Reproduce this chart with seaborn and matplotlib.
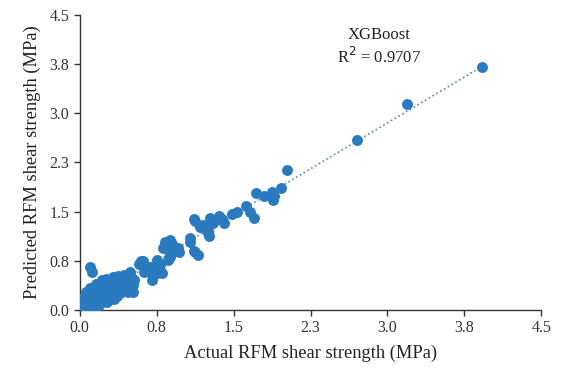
import numpy as np
import pandas as pd
import matplotlib
matplotlib.use("Agg")
import matplotlib.pyplot as plt
import seaborn as sns

# actual vs predicted shear strength (MPa)
actual = [
    0.00, 0.01, 0.02, 0.00, 0.03, 0.05, 0.04, 0.06, 0.02, 0.07, 0.08, 0.01, 0.09, 0.05, 0.10,
    0.11, 0.12, 0.13, 0.14, 0.15, 0.16, 0.17, 0.18, 0.19, 0.20, 0.21, 0.22, 0.23, 0.24, 0.25,
    0.06, 0.10, 0.16, 0.22, 0.26, 0.03, 0.08, 0.14,
    0.27, 0.28, 0.29, 0.30, 0.31, 0.32, 0.33, 0.34, 0.35, 0.36, 0.37, 0.38, 0.39, 0.40,
    0.41, 0.42, 0.43, 0.44, 0.45, 0.46, 0.47, 0.48, 0.49, 0.50, 0.51, 0.52, 0.52, 0.53,
    0.10, 0.12,
    0.58, 0.60, 0.62, 0.63, 0.65, 0.68, 0.70, 0.71, 0.70, 0.75, 0.75, 0.78, 0.80, 0.81,
    0.83, 0.84, 0.86, 0.88, 0.88, 0.88, 0.91, 0.94, 0.96, 0.97, 0.90, 0.85,
    1.07, 1.07, 1.11, 1.12, 1.15, 1.11, 1.12, 1.17, 1.18, 1.25, 1.25, 1.27, 1.30, 1.26,
    1.36, 1.39, 1.41, 1.20,
    1.48, 1.53, 1.62, 1.66, 1.70, 1.72, 1.80, 1.87, 1.88, 1.89, 1.96, 2.02,
    2.70, 3.19, 3.92,
]
predicted = [
    0.00, 0.02, 0.05, 0.08, 0.10, 0.03, 0.15, 0.08, 0.18, 0.12, 0.05, 0.12, 0.15, 0.20, 0.10,
    0.06, 0.18, 0.28, 0.10, 0.22, 0.32, 0.14, 0.26, 0.08, 0.20, 0.35, 0.12, 0.28, 0.40, 0.18,
    0.28, 0.33, 0.40, 0.45, 0.47, 0.00, 0.00, 0.04,
    0.12, 0.30, 0.42, 0.20, 0.36, 0.50, 0.16, 0.28, 0.44, 0.22, 0.52, 0.34, 0.26, 0.46,
    0.38, 0.30, 0.53, 0.42, 0.50, 0.34, 0.27, 0.45, 0.58, 0.40, 0.49, 0.28, 0.38, 0.46,
    0.66, 0.58,
    0.70, 0.74, 0.74, 0.58, 0.60, 0.66, 0.64, 0.53, 0.46, 0.56, 0.76, 0.69, 0.56, 0.94,
    1.04, 1.02, 0.76, 1.07, 0.84, 0.81, 0.91, 0.94, 0.94, 0.89, 1.00, 0.95,
    1.04, 1.10, 0.90, 0.89, 0.84, 1.38, 1.36, 1.27, 1.26, 1.22, 1.17, 1.40, 1.32, 1.13,
    1.43, 1.38, 1.33, 1.30,
    1.47, 1.50, 1.58, 1.50, 1.40, 1.78, 1.74, 1.80, 1.68, 1.74, 1.86, 2.13,
    2.59, 3.14, 3.70,
]

ticks = [0.0, 0.75, 1.5, 2.25, 3.0, 3.75, 4.5]
tick_labels = ["0.0", "0.8", "1.5", "2.3", "3.0", "3.8", "4.5"]

df = pd.DataFrame({"actual": actual, "predicted": predicted})

sns.set_theme(style="ticks")
plt.rcParams["font.family"] = ["Liberation Serif", "DejaVu Serif"]

fig, ax = plt.subplots(figsize=(5.62, 3.73), dpi=100)
fig.subplots_adjust(left=0.142, right=0.963, bottom=0.169, top=0.960)

sns.regplot(
    data=df, x="actual", y="predicted", ax=ax, ci=None,
    scatter_kws=dict(s=62, color="#2a7abf", linewidths=0, alpha=1, zorder=3),
    line_kws=dict(color="#5b86b3", ls=":", lw=1.2, zorder=2),
)

ax.set_xlim(0, 4.5)
ax.set_ylim(0, 4.5)
ax.set_xticks(ticks, tick_labels)
ax.set_yticks(ticks, tick_labels)
ax.tick_params(labelsize=11.5, colors="#333333", length=4, width=1)
for side in ["left", "bottom"]:
    ax.spines[side].set_color("#333333")
    ax.spines[side].set_linewidth(1)
sns.despine(ax=ax)

ax.set_xlabel("Actual RFM shear strength (MPa)", fontsize=13.3, color="#222222", labelpad=6)
ax.set_ylabel("Predicted RFM shear strength (MPa)", fontsize=13.3, color="#222222", labelpad=6)

ax.text(2.92, 4.19, "XGBoost", ha="center", va="center", fontsize=12, color="#222222")
ax.text(2.92, 3.86, "R$^2$ = 0.9707", ha="center", va="center", fontsize=12, color="#222222")

fig.savefig("out.png", dpi=100)
